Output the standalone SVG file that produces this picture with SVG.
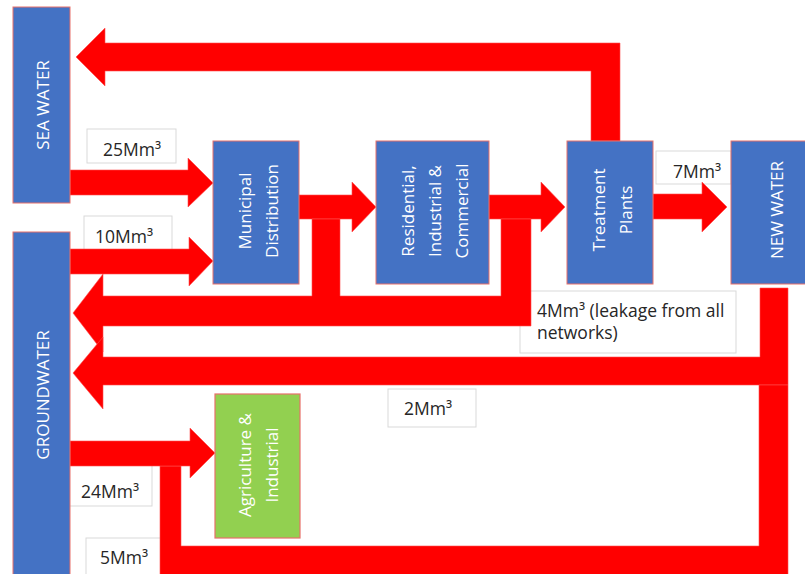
<svg xmlns="http://www.w3.org/2000/svg" width="805" height="574" viewBox="0 0 805 574">
<style>
.bg{fill:#ffffff}
.lbl{fill:#ffffff;stroke:#d9d9d9;stroke-width:1}
.lt{font-family:"Open Sans","Noto Sans",sans-serif;font-size:17.5px;fill:#262626}
.pipe{fill:#ff0000;stroke:#ff4d4d;stroke-width:0.6}
.blue{fill:#4472c4;stroke:#e8706a;stroke-width:1}
.green{fill:#92d050;stroke:#e8706a;stroke-width:1.2}
.nt{font-family:"Open Sans","Noto Sans",sans-serif;font-size:17px;fill:#ffffff;text-anchor:middle}
</style>
<rect class="bg" x="0" y="0" width="805" height="574"/>
<g id="labels">
  <rect class="lbl" x="87" y="129" width="89" height="34"/>
  <text class="lt" x="132" y="156" text-anchor="middle">25Mm³</text>
  <rect class="lbl" x="84" y="216" width="88" height="40"/>
  <text class="lt" x="124" y="243" text-anchor="middle">10Mm³</text>
  <rect class="lbl" x="656" y="151" width="75" height="33"/>
  <text class="lt" x="697" y="178" text-anchor="middle">7Mm³</text>
  <rect class="lbl" x="520" y="291" width="216" height="62"/>
  <text class="lt" x="537" y="317">4Mm³ (leakage from all</text>
  <text class="lt" x="537" y="339">networks)</text>
  <rect class="lbl" x="388" y="389" width="88" height="38"/>
  <text class="lt" x="428" y="415" text-anchor="middle">2Mm³</text>
  <rect class="lbl" x="66" y="460" width="86" height="46"/>
  <text class="lt" x="110" y="498" text-anchor="middle">24Mm³</text>
  <rect class="lbl" x="86" y="538" width="80" height="40"/>
  <text class="lt" x="124" y="564" text-anchor="middle">5Mm³</text>
</g>
<g id="connectors">
  <polygon class="pipe" points="620,141 620,43 105,43 105,28 76,57 105,86 105,71 591,71 591,141"/>
  <polygon class="pipe" points="70,170 188,170 188,158 213,183 188,207 188,195 70,195"/>
  <polygon class="pipe" points="70,249 189,249 189,237 213,261 189,286 189,274 70,274"/>
  <polygon class="pipe" points="299,195 352,195 352,182 376,207 352,232 352,219 299,219"/>
  <polygon class="pipe" points="489,195 541,195 541,182 565,207 541,232 541,219 489,219"/>
  <polygon class="pipe" points="653,194 702,194 702,182 727,207 702,232 702,219 653,219"/>
  <polygon class="pipe" points="103,274 73,313 103,352 103,326 531,326 531,219 501,219 501,296 340,296 340,219 312,219 312,296 103,296"/>
  <polygon class="pipe" points="103,337 73,373 103,409 103,385 788,385 788,288 760,288 760,357 103,357"/>
  <polygon class="pipe" points="759,385 788,385 788,580 160,580 160,466 181,466 181,546 759,546"/>
  <polygon class="pipe" points="70,441 190,441 190,428 215,453 190,478 190,466 70,466"/>
</g>
<g id="sea-water">
  <rect class="blue" x="13" y="7" width="57" height="196"/>
  <text class="nt" transform="translate(49,105) rotate(-90)">SEA WATER</text>
</g>
<g id="groundwater">
  <rect class="blue" x="13" y="232" width="57" height="350"/>
  <text class="nt" transform="translate(49,395) rotate(-90)">GROUNDWATER</text>
</g>
<g id="municipal-distribution">
  <rect class="blue" x="213" y="141" width="86" height="143"/>
  <text class="nt" transform="translate(251,211) rotate(-90)">Municipal</text>
  <text class="nt" transform="translate(278,211) rotate(-90)">Distribution</text>
</g>
<g id="residential">
  <rect class="blue" x="376" y="141" width="113" height="143"/>
  <text class="nt" transform="translate(414,211) rotate(-90)">Residential,</text>
  <text class="nt" transform="translate(441,211) rotate(-90)">Industrial  &amp;</text>
  <text class="nt" transform="translate(468,211) rotate(-90)">Commercial</text>
</g>
<g id="treatment-plants">
  <rect class="blue" x="567" y="141" width="86" height="143"/>
  <text class="nt" transform="translate(605,210) rotate(-90)">Treatment</text>
  <text class="nt" transform="translate(632,210) rotate(-90)">Plants</text>
</g>
<g id="new-water">
  <rect class="blue" x="731" y="141" width="100" height="143"/>
  <text class="nt" transform="translate(783,210) rotate(-90)">NEW WATER</text>
</g>
<g id="agriculture-industrial">
  <rect class="green" x="215" y="394" width="85" height="144"/>
  <text class="nt" transform="translate(251,465) rotate(-90)">Agriculture  &amp;</text>
  <text class="nt" transform="translate(278,465) rotate(-90)">Industrial</text>
</g>
</svg>
